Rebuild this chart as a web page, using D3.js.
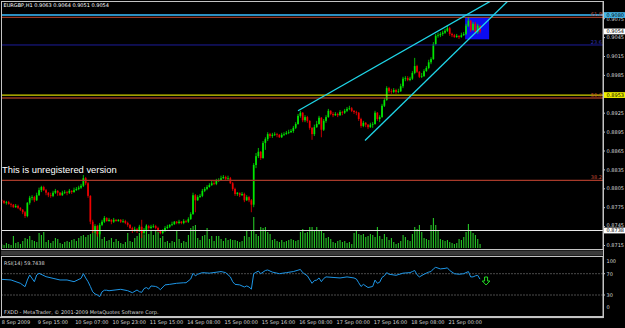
<!DOCTYPE html>
<html><head><meta charset="utf-8">
<script src="https://cdn.jsdelivr.net/npm/d3@7"></script>
<style>html,body{margin:0;padding:0;background:#000;overflow:hidden}</style>
</head><body><svg id="c" width="625" height="328"></svg>
<script>
const titleText = "EURGBP,H1  0.9063 0.9064 0.9051 0.9054";
const rsiLabel = "RSI(14) 59.7438";
const footerText = "FXDD - MetaTrader, \u00A9 2001-2009 MetaQuotes Software Corp.";
const watermark = "This is unregistered version";

const opens = [
0.8786,0.8785,0.8782,0.8783,0.8780,0.8779,0.8775,0.8777,0.8774,0.8771,
0.8767,0.8761,0.8782,0.8790,0.8791,0.8786,0.8794,0.8802,0.8807,0.8802,
0.8798,0.8794,0.8793,0.8798,0.8801,0.8798,0.8794,0.8798,0.8799,0.8798,
0.8801,0.8799,0.8802,0.8804,0.8806,0.8809,0.8821,0.8813,0.8793,0.8752,
0.8737,0.8745,0.8732,0.8747,0.8752,0.8758,0.8753,0.8755,0.8752,0.8755,
0.8753,0.8755,0.8752,0.8753,0.8750,0.8747,0.8742,0.8739,0.8740,0.8737,
0.8744,0.8734,0.8739,0.8745,0.8742,0.8744,0.8745,0.8742,0.8737,0.8734,
0.8737,0.8742,0.8744,0.8747,0.8748,0.8752,0.8750,0.8752,0.8750,0.8753,
0.8752,0.8756,0.8764,0.8794,0.8786,0.8791,0.8793,0.8801,0.8804,0.8807,
0.8810,0.8813,0.8812,0.8817,0.8818,0.8821,0.8823,0.8820,0.8821,0.8813,
0.8804,0.8796,0.8798,0.8794,0.8796,0.8786,0.8791,0.8786,0.8779,0.8842,
0.8856,0.8863,0.8853,0.8877,0.8883,0.8891,0.8888,0.8890,0.8891,0.8890,
0.8886,0.8890,0.8891,0.8893,0.8894,0.8896,0.8901,0.8907,0.8920,0.8925,
0.8913,0.8918,0.8912,0.8901,0.8891,0.8902,0.8907,0.8917,0.8898,0.8912,
0.8918,0.8928,0.8923,0.8921,0.8923,0.8921,0.8926,0.8925,0.8928,0.8931,
0.8932,0.8928,0.8926,0.8925,0.8915,0.8904,0.8909,0.8906,0.8902,0.8906,
0.8907,0.8925,0.8915,0.8918,0.8936,0.8945,0.8964,0.8959,0.8958,0.8961,
0.8958,0.8959,0.8967,0.8979,0.8980,0.8977,0.8979,0.8988,0.8999,0.8990,
0.8982,0.8983,0.8991,0.8996,0.9005,0.9010,0.9034,0.9047,0.9048,0.9050,
0.9052,0.9055,0.9059,0.9050,0.9048,0.9045,0.9047,0.9045,0.9048,0.9050,
0.9063,0.9071,0.9056,0.9066,0.9053,0.9063];
const highs = [
0.8788,0.8786,0.8785,0.8785,0.8782,0.8780,0.8780,0.8779,0.8775,0.8772,
0.8769,0.8783,0.8793,0.8794,0.8793,0.8798,0.8806,0.8809,0.8809,0.8804,
0.8799,0.8798,0.8801,0.8804,0.8802,0.8799,0.8801,0.8802,0.8801,0.8804,
0.8802,0.8806,0.8807,0.8809,0.8812,0.8826,0.8823,0.8815,0.8794,0.8755,
0.8748,0.8747,0.8750,0.8755,0.8761,0.8759,0.8758,0.8756,0.8758,0.8756,
0.8756,0.8756,0.8756,0.8755,0.8752,0.8748,0.8744,0.8744,0.8742,0.8747,
0.8755,0.8742,0.8748,0.8747,0.8747,0.8748,0.8747,0.8744,0.8739,0.8740,
0.8745,0.8747,0.8748,0.8752,0.8753,0.8753,0.8755,0.8753,0.8756,0.8755,
0.8759,0.8767,0.8798,0.8796,0.8794,0.8796,0.8804,0.8807,0.8810,0.8813,
0.8817,0.8817,0.8820,0.8821,0.8825,0.8826,0.8825,0.8825,0.8823,0.8815,
0.8806,0.8799,0.8798,0.8799,0.8798,0.8794,0.8793,0.8788,0.8845,0.8861,
0.8869,0.8864,0.8880,0.8886,0.8894,0.8893,0.8893,0.8894,0.8893,0.8891,
0.8893,0.8894,0.8896,0.8898,0.8899,0.8904,0.8910,0.8923,0.8928,0.8926,
0.8921,0.8920,0.8913,0.8902,0.8906,0.8912,0.8920,0.8918,0.8915,0.8921,
0.8931,0.8929,0.8926,0.8926,0.8925,0.8929,0.8928,0.8931,0.8934,0.8936,
0.8934,0.8929,0.8928,0.8926,0.8917,0.8912,0.8910,0.8907,0.8909,0.8910,
0.8928,0.8926,0.8921,0.8939,0.8948,0.8967,0.8966,0.8963,0.8964,0.8963,
0.8963,0.8971,0.8982,0.8983,0.8983,0.8982,0.8991,0.9012,0.9001,0.8991,
0.8988,0.8994,0.8999,0.9009,0.9013,0.9037,0.9050,0.9052,0.9053,0.9055,
0.9058,0.9064,0.9061,0.9052,0.9050,0.9050,0.9048,0.9052,0.9053,0.9066,
0.9077,0.9072,0.9069,0.9069,0.9066,0.9064];
const lows = [
0.8782,0.8780,0.8779,0.8779,0.8775,0.8774,0.8774,0.8772,0.8769,0.8764,
0.8758,0.8759,0.8779,0.8786,0.8783,0.8785,0.8793,0.8799,0.8801,0.8794,
0.8791,0.8790,0.8791,0.8796,0.8793,0.8793,0.8793,0.8796,0.8794,0.8796,
0.8796,0.8798,0.8801,0.8802,0.8804,0.8807,0.8810,0.8790,0.8748,0.8734,
0.8734,0.8728,0.8728,0.8745,0.8750,0.8752,0.8752,0.8748,0.8750,0.8752,
0.8752,0.8750,0.8750,0.8748,0.8744,0.8740,0.8734,0.8736,0.8734,0.8736,
0.8726,0.8731,0.8737,0.8739,0.8740,0.8742,0.8740,0.8736,0.8732,0.8732,
0.8736,0.8740,0.8742,0.8745,0.8747,0.8748,0.8748,0.8748,0.8748,0.8750,
0.8750,0.8755,0.8763,0.8767,0.8785,0.8790,0.8791,0.8799,0.8802,0.8806,
0.8809,0.8810,0.8810,0.8815,0.8817,0.8820,0.8818,0.8818,0.8812,0.8801,
0.8793,0.8793,0.8791,0.8793,0.8783,0.8785,0.8783,0.8767,0.8775,0.8837,
0.8853,0.8850,0.8852,0.8866,0.8880,0.8885,0.8885,0.8888,0.8886,0.8885,
0.8885,0.8888,0.8890,0.8891,0.8893,0.8893,0.8899,0.8906,0.8917,0.8910,
0.8910,0.8909,0.8898,0.8882,0.8888,0.8901,0.8906,0.8886,0.8896,0.8909,
0.8917,0.8921,0.8918,0.8920,0.8918,0.8920,0.8921,0.8923,0.8926,0.8929,
0.8926,0.8923,0.8921,0.8912,0.8901,0.8902,0.8902,0.8899,0.8901,0.8901,
0.8906,0.8912,0.8910,0.8917,0.8934,0.8944,0.8956,0.8955,0.8956,0.8955,
0.8956,0.8958,0.8964,0.8975,0.8975,0.8975,0.8977,0.8986,0.8988,0.8980,
0.8980,0.8982,0.8990,0.8994,0.9002,0.9009,0.9032,0.9044,0.9045,0.9047,
0.9050,0.9053,0.9047,0.9045,0.9044,0.9044,0.9042,0.9044,0.9047,0.9048,
0.9061,0.9053,0.9055,0.9050,0.9050,0.9051];
const closes = [
0.8785,0.8782,0.8783,0.8780,0.8779,0.8775,0.8777,0.8774,0.8771,0.8767,
0.8761,0.8782,0.8790,0.8791,0.8786,0.8794,0.8802,0.8807,0.8802,0.8798,
0.8794,0.8793,0.8798,0.8801,0.8798,0.8794,0.8798,0.8799,0.8798,0.8801,
0.8799,0.8802,0.8804,0.8806,0.8809,0.8821,0.8813,0.8793,0.8752,0.8737,
0.8745,0.8732,0.8747,0.8752,0.8758,0.8753,0.8755,0.8752,0.8755,0.8753,
0.8755,0.8752,0.8753,0.8750,0.8747,0.8742,0.8739,0.8740,0.8737,0.8744,
0.8734,0.8739,0.8745,0.8742,0.8744,0.8745,0.8742,0.8737,0.8734,0.8737,
0.8742,0.8744,0.8747,0.8748,0.8752,0.8750,0.8752,0.8750,0.8753,0.8752,
0.8756,0.8764,0.8794,0.8786,0.8791,0.8793,0.8801,0.8804,0.8807,0.8810,
0.8813,0.8812,0.8817,0.8818,0.8821,0.8823,0.8820,0.8821,0.8813,0.8804,
0.8796,0.8798,0.8794,0.8796,0.8786,0.8791,0.8786,0.8779,0.8842,0.8856,
0.8863,0.8853,0.8877,0.8883,0.8891,0.8888,0.8890,0.8891,0.8890,0.8886,
0.8890,0.8891,0.8893,0.8894,0.8896,0.8901,0.8907,0.8920,0.8925,0.8913,
0.8918,0.8912,0.8901,0.8891,0.8902,0.8907,0.8917,0.8898,0.8912,0.8918,
0.8928,0.8923,0.8921,0.8923,0.8921,0.8926,0.8925,0.8928,0.8931,0.8932,
0.8928,0.8926,0.8925,0.8915,0.8904,0.8909,0.8906,0.8902,0.8906,0.8907,
0.8925,0.8915,0.8918,0.8936,0.8945,0.8964,0.8959,0.8958,0.8961,0.8958,
0.8959,0.8967,0.8979,0.8980,0.8977,0.8979,0.8988,0.8999,0.8990,0.8982,
0.8983,0.8991,0.8996,0.9005,0.9010,0.9034,0.9047,0.9048,0.9050,0.9052,
0.9055,0.9059,0.9050,0.9048,0.9045,0.9047,0.9045,0.9048,0.9050,0.9063,
0.9071,0.9056,0.9066,0.9053,0.9063,0.9054];
const volumes = [
240,180,300,240,180,720,300,360,240,420,
600,540,720,480,420,360,900,780,960,360,
480,300,420,600,540,300,240,360,420,360,
480,540,420,600,720,780,660,780,840,1380,
1200,1080,1020,540,660,420,480,600,360,540,
420,300,240,360,900,420,360,600,720,900,
1080,780,1380,840,1020,780,1080,960,600,720,
360,420,300,420,360,1020,540,300,420,360,
780,1200,1320,1380,600,480,720,780,1200,540,
720,420,720,720,540,420,600,480,540,480,
480,420,360,420,720,1020,660,1020,1860,840,
720,1260,1200,1260,960,840,480,540,420,360,
480,360,420,480,540,480,420,480,960,1140,
900,960,1260,1260,1080,1260,1020,1020,900,600,
660,540,360,300,420,480,360,420,300,360,
240,900,1020,840,780,840,660,720,840,780,
660,1260,720,540,840,660,480,600,360,240,
300,420,780,660,480,420,840,1260,1140,1380,
960,600,540,480,1380,1800,1380,1080,540,480,
420,480,360,300,240,300,540,480,660,960,
1440,1080,900,780,540,240];

const rsiBars = [0,4,8,10,11,12,14,15,16,19,22,25,28,31,34,35,36,37,38,39,40,41,42,43,44,45,46,51,54,56,58,59,60,61,62,63,64,66,67,68,70,72,75,78,79,81,82,83,84,86,89,94,96,98,99,100,102,104,105,106,107,108,110,111,113,114,116,119,122,125,128,129,131,133,134,135,136,137,138,139,142,145,148,151,152,153,154,155,157,159,160,161,162,163,164,165,166,169,172,175,176,177,178,179,181,183,184,185,186,188,190,191,192,194,196,198,200,201,202,203,204,205];
const rsiValues = [59.4,58.2,52,45.6,58.2,67.6,55,67.6,70.7,64.4,61.3,58.2,58.2,55,61.3,70,62,55,46,36,32,30,27,36,39,39,38,40.7,38.1,34.3,39.4,36.2,35,42,44,41,47,46,44,40,49,50,52,53,53,60,70.7,66,69,72,71,74,72,64,55,50,49,45,47,45,41,70,75,70,76,77,73,70,72,74,78,72,66,52,57,58,62,55,61,64,63,62,64,62,60,53,46,50,44,46,58,52,54,63,66,72,69,67,71,72,74,76,68,64,69,73,74,79,82,79,80,81,76,70,69,70,74,64,64,66,67,59.7438];

const priceTicks = [0.8715,0.8745,0.8775,0.8805,0.8835,0.8865,0.8895,0.8925,0.8955,0.8985,0.9015,0.9045,0.9075];
const rsiTicks = [0,30,70,100];
const rsiLevels = [30,70];
const timeLabels = ["8 Sep 2009","9 Sep 15:00","10 Sep 07:00","10 Sep 23:00","11 Sep 15:00","14 Sep 08:00","15 Sep 00:00","15 Sep 16:00","16 Sep 08:00","17 Sep 00:00","17 Sep 16:00","18 Sep 08:00","21 Sep 00:00"];
const timeLabelBars = [0,16,32,48,64,80,96,112,128,144,160,176,192];

const levelPrices = [0.9080, 0.90764, 0.90325, 0.8953, 0.89483, 0.88177, 0.8738];
const fibNames = ["61.8","23.6","50.0","38.2"];
const fibPrices = [0.90764, 0.90325, 0.89483, 0.88177];
const markerPrices = [0.9080, 0.9054, 0.8953, 0.8738];
const markerTexts = ["0.9080","0.9054","0.8953","0.8738"];
const trendStartBars = [127, 155.7], trendStartPrices = [0.8928, 0.8881];
const trendEndBars = [200, 195], trendEndPrices = [0.9082, 0.9023];
const boxBars = [198.6, 208.9], boxPrices = [0.90765, 0.90415];
const arrowBar = 207.6, arrowValue = 63.8;

// ---- styles ----
const levelColors = ["#2b8fc2","#b8452e","#1c1c9c","#d4d400","#d9532f","#a73a2a","#e8e8e8"];
const levelWidths = [2,1,1,1.2,1.2,1.3,1.2];
const fibColors = ["#c0503a","#3030b0","#d9532f","#c04a35"];
const markerBg = ["#45b4e6","#ffffff","#f0f000","#ffffff"];
const FONT = "'DejaVu Sans', sans-serif";
const frameColor = "#c4c4c4";

const svg = d3.select("#c");
const AX = 603; // price axis x
const x = d3.scaleLinear().domain([0, 258]).range([1.7, 1.7 + 258 * 2.3333]);
const y = d3.scaleLinear().domain([0.8715, 0.9015]).range([245, 56]);
const vY = d3.scaleLinear().domain([0, 2000]).range([248, 248 - 2000 / 60]);
const rY = d3.scaleLinear().domain([30, 70]).range([295, 273.7]);

svg.append("rect").attr("width", 625).attr("height", 328).attr("fill", "#000");

const defs = svg.append("defs");
defs.append("clipPath").attr("id", "mainClip").append("rect")
  .attr("x", 1.5).attr("y", 1.5).attr("width", AX - 1.5).attr("height", 247.5);
defs.append("clipPath").attr("id", "rsiClip").append("rect")
  .attr("x", 1.5).attr("y", 257).attr("width", AX - 1.5).attr("height", 59);

const main = svg.append("g").attr("clip-path", "url(#mainClip)");

// blue rectangle (background object)
main.append("rect")
  .attr("x", x(boxBars[0])).attr("y", y(boxPrices[0]))
  .attr("width", x(boxBars[1]) - x(boxBars[0]))
  .attr("height", y(boxPrices[1]) - y(boxPrices[0]))
  .attr("fill", "#0c0cf0");

// volumes
main.append("g").selectAll("rect").data(volumes).join("rect")
  .attr("x", (d, i) => x(i) - 0.5).attr("width", 1.1)
  .attr("y", d => vY(d)).attr("height", d => vY(0) - vY(d))
  .attr("fill", "#26c426");

// candles
const idx = d3.range(closes.length);
const cg = main.append("g");
cg.selectAll("line").data(idx).join("line")
  .attr("x1", i => x(i)).attr("x2", i => x(i))
  .attr("y1", i => y(highs[i])).attr("y2", i => y(lows[i]))
  .attr("stroke", i => closes[i] >= opens[i] ? "#00e800" : "#ee0000")
  .attr("stroke-width", 0.8);
cg.selectAll("rect").data(idx).join("rect")
  .attr("x", i => x(i) - 0.85).attr("width", 1.7)
  .attr("y", i => y(Math.max(opens[i], closes[i])))
  .attr("height", i => Math.max(0.7, Math.abs(y(opens[i]) - y(closes[i]))))
  .attr("fill", i => closes[i] >= opens[i] ? "#00e800" : "#ee0000");

// horizontal levels
main.append("g").selectAll("line").data(levelPrices).join("line")
  .attr("x1", 0).attr("x2", AX)
  .attr("y1", d => y(d)).attr("y2", d => y(d))
  .attr("stroke", (d, i) => levelColors[i]).attr("stroke-width", (d, i) => levelWidths[i]);

// trendlines (rays)
main.append("g").selectAll("line").data(trendStartBars).join("line")
  .each(function (b0, i) {
    const p0 = trendStartPrices[i], b1 = trendEndBars[i], p1 = trendEndPrices[i];
    const bEnd = 260, pEnd = p0 + (p1 - p0) * (bEnd - b0) / (b1 - b0);
    d3.select(this).attr("x1", x(b0)).attr("y1", y(p0)).attr("x2", x(bEnd)).attr("y2", y(pEnd));
  })
  .attr("stroke", "#1fd6e8").attr("stroke-width", 1.3);

// fib labels
svg.append("g").selectAll("text").data(fibNames).join("text")
  .attr("x", AX - 1).attr("y", (d, i) => y(fibPrices[i]) - 1.4)
  .attr("text-anchor", "end").attr("font-family", FONT).attr("font-size", 5)
  .attr("fill", (d, i) => fibColors[i]).text(d => d);

// watermark + title
svg.append("text").attr("x", 2).attr("y", 172.5)
  .attr("font-family", "'Liberation Sans', Arial, sans-serif").attr("font-size", 9.4)
  .attr("fill", "#ffffff").text(watermark);
svg.append("text").attr("x", 3.5).attr("y", 7.4)
  .attr("font-family", FONT).attr("font-size", 5).attr("fill", "#ffffff").text(titleText);

// frames
const fr = svg.append("g").attr("fill", "none").attr("stroke", frameColor);
fr.append("rect").attr("x", 1.5).attr("y", 1.5).attr("width", AX - 1.5).attr("height", 248);
svg.append("rect").attr("x", 1).attr("y", 250.5).attr("width", AX - 0.5).attr("height", 5).attr("fill", "#3a3a3a");
fr.append("rect").attr("x", 1.5).attr("y", 256.5).attr("width", AX - 1.5).attr("height", 60);
svg.append("rect").attr("x", 0).attr("y", 316.5).attr("width", AX + 0.5).attr("height", 1.6).attr("fill", frameColor);

// price axis
const pa = svg.append("g").attr("transform", `translate(${AX},0)`)
  .call(d3.axisRight(y).tickValues(priceTicks).tickFormat(d3.format(".4f")).tickSize(2).tickPadding(1.5));
pa.select(".domain").attr("stroke", frameColor).attr("d", "M0.5,1V318");
pa.selectAll(".tick line").attr("stroke", frameColor);
const nearMarker = d => markerPrices.find(m => Math.abs(y(m) - y(d)) < 5.5);
pa.selectAll(".tick text").attr("font-family", FONT).attr("font-size", 5).attr("fill", "#d8d8d8")
  // a tick label lying under a marker box is hidden by it, as in the reference
  .attr("display", d => { const m = nearMarker(d); return m !== undefined && Math.abs(y(m) - y(d)) < 2.5 ? "none" : null; })
  .attr("dy", d => {
    const m = nearMarker(d);
    if (m === undefined) return "0.32em";
    return (y(d) < y(m) ? -0.9 : 1.1) + 1.6 + "px";
  });

// marker boxes on price axis
const mk = svg.append("g").selectAll("g").data(markerPrices).join("g");
mk.append("rect").attr("x", AX + 1).attr("y", d => y(d) - 2.9).attr("width", 21.5).attr("height", 5.8)
  .attr("fill", (d, i) => markerBg[i]);
mk.append("text").attr("x", AX + 3.5).attr("y", d => y(d) + 1.8)
  .attr("font-family", FONT).attr("font-size", 5).attr("fill", "#000").text((d, i) => markerTexts[i]);

// RSI panel
const rg = svg.append("g").attr("clip-path", "url(#rsiClip)");
rg.selectAll("line.lvl").data(rsiLevels).join("line").attr("class", "lvl")
  .attr("x1", 1.5).attr("x2", AX).attr("y1", d => rY(d)).attr("y2", d => rY(d))
  .attr("stroke", "#bdbdbd").attr("stroke-width", 0.8).attr("stroke-dasharray", "1,2");
rg.append("path").datum(rsiBars)
  .attr("d", d3.line().x(b => x(b)).y((b, i) => rY(rsiValues[i])))
  .attr("fill", "none").attr("stroke", "#1e96e6").attr("stroke-width", 1);
// arrow
const ax0 = x(arrowBar), ay0 = rY(arrowValue);
rg.append("path")
  .attr("d", `M${ax0 - 1.5},${ay0} H${ax0 + 1.5} V${ay0 + 4} H${ax0 + 3.8} L${ax0},${ay0 + 8} L${ax0 - 3.8},${ay0 + 4} H${ax0 - 1.5} Z`)
  .attr("fill", "#000").attr("stroke", "#22dd22").attr("stroke-width", 1);

svg.append("text").attr("x", 4).attr("y", 264.6)
  .attr("font-family", FONT).attr("font-size", 5).attr("fill", "#d8d8d8").text(rsiLabel);
svg.append("text").attr("x", 4).attr("y", 314.2)
  .attr("font-family", FONT).attr("font-size", 5).attr("fill", "#d8d8d8").text(footerText);

// RSI axis labels
svg.append("g").selectAll("text").data(rsiTicks).join("text")
  .attr("x", AX + 3.5)
  .attr("y", d => rY(d) + 1.8 + (d === 100 ? 3.3 : d === 0 ? -3.3 : 0))
  .attr("font-family", FONT).attr("font-size", 5).attr("fill", "#d8d8d8").text(d => d);
svg.append("g").selectAll("line").data(rsiLevels).join("line")
  .attr("x1", AX).attr("x2", AX + 2).attr("y1", d => rY(d)).attr("y2", d => rY(d)).attr("stroke", frameColor);

// time axis
svg.append("g").selectAll("text").data(timeLabels).join("text")
  .attr("x", (d, i) => x(timeLabelBars[i]) - (i === 0 ? 0 : 1.2)).attr("y", 324.4)
  .attr("font-family", FONT).attr("font-size", 5).attr("fill", "#d8d8d8").text(d => d);
</script></body></html>
